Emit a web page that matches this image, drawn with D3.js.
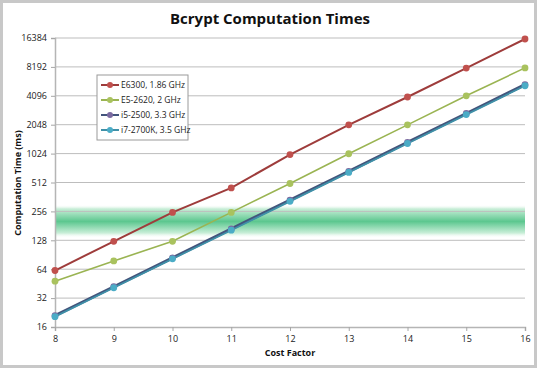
<!DOCTYPE html>
<html><head><meta charset="utf-8">
<script src="https://cdn.jsdelivr.net/npm/d3@7"></script>
<style>
html,body{margin:0;padding:0;background:#fff;}
svg{display:block;}
text{font-family:"Open Sans","Liberation Sans",Arial,sans-serif;}
</style></head>
<body><svg id="c" width="540" height="370"></svg>
<script>
const costFactors = [8, 9, 10, 11, 12, 13, 14, 15, 16];
const yTicks = [16, 32, 64, 128, 256, 512, 1024, 2048, 4096, 8192, 16384];
const seriesNames = ["E6300, 1.86 GHz", "E5-2620, 2 GHz", "i5-2500, 3.3 GHz", "i7-2700K, 3.5 GHz"];
const e6300 = [62, 125, 250, 450, 1000, 2040, 3980, 7970, 16000];
const e52620 = [48, 78, 125, 250, 500, 1020, 2040, 4096, 8000];
const i52500 = [21, 42, 84, 168, 336, 670, 1340, 2680, 5350];
const i72700k = [20.5, 41, 82, 163, 326, 652, 1304, 2608, 5210];
const bandRange = [135, 300];

const lineColors = ["#9e3c3b", "#9ab452", "#43557c", "#3f90a8"];
const markerColors = ["#c0504d", "#a9c25e", "#7b6aa0", "#4bacc6"];
const lineWidths = [2, 1.6, 3, 1.8];

const svg = d3.select("#c");
svg.append("rect").attr("x",1.5).attr("y",1.5).attr("width",534).attr("height",365)
  .attr("fill","#fff").attr("stroke","#c8c8c8").attr("stroke-width",3);

const x = d3.scaleLinear().domain([8,16]).range([55,525]);
const y = d3.scaleLog().base(2).domain([16,16384]).range([327,38]);

const defs = svg.append("defs");
const g = defs.append("linearGradient").attr("id","band").attr("x1",0).attr("y1",0).attr("x2",0).attr("y2",1);
g.append("stop").attr("offset","0%").attr("stop-color","#ffffff").attr("stop-opacity",0);
g.append("stop").attr("offset","12%").attr("stop-color","#c9eed8");
g.append("stop").attr("offset","50%").attr("stop-color","#5cc78f");
g.append("stop").attr("offset","85%").attr("stop-color","#c9eed8");
g.append("stop").attr("offset","100%").attr("stop-color","#ffffff").attr("stop-opacity",0);
svg.append("rect").attr("x",x(8)).attr("width",x(16)-x(8))
  .attr("y",y(bandRange[1])).attr("height",y(bandRange[0])-y(bandRange[1]))
  .attr("fill","url(#band)");

svg.append("g").selectAll("line").data(yTicks.slice(1)).join("line")
  .attr("x1",x(8)).attr("x2",x(16)).attr("y1",d=>y(d)).attr("y2",d=>y(d))
  .attr("stroke","#bdbdbd").attr("stroke-width",1);

const yAxis = d3.axisLeft(y).tickValues(yTicks).tickFormat(d3.format("d")).tickSize(4).tickPadding(4);
const ya = svg.append("g").attr("transform",`translate(${x(8)},0)`).call(yAxis);
const xAxis = d3.axisBottom(x).tickValues(costFactors).tickFormat(d3.format("d")).tickSize(4).tickPadding(5);
const xa = svg.append("g").attr("transform",`translate(0,${y(16)})`).call(xAxis);
[ya,xa].forEach(a=>{
  a.select(".domain").attr("stroke","#b5b5b5").attr("stroke-width",1.5);
  a.selectAll(".tick line").attr("stroke","#a6a6a6");
  a.selectAll("text").attr("font-size",9).attr("fill","#222");
});

const all = [e6300, e52620, i52500, i72700k];
const line = d3.line().x((d,i)=>x(costFactors[i])).y(d=>y(d));
[0,1,2,3].forEach(k=>{
  svg.append("path").datum(all[k]).attr("d",line).attr("fill","none")
    .attr("stroke",lineColors[k]).attr("stroke-width",lineWidths[k]);
});
[0,1,2,3].forEach(k=>{
  svg.append("g").selectAll("circle").data(all[k]).join("circle")
    .attr("cx",(d,i)=>x(costFactors[i])).attr("cy",d=>y(d)).attr("r",3.4)
    .attr("fill",markerColors[k]);
});

svg.append("text").attr("x",270).attr("y",24).attr("text-anchor","middle")
  .attr("font-size",15).attr("font-weight","bold").attr("fill","#111").text("Bcrypt Computation Times");
svg.append("text").attr("x",290).attr("y",356).attr("text-anchor","middle")
  .attr("font-size",9).attr("font-weight","bold").attr("fill","#111").text("Cost Factor");
svg.append("text").attr("transform","translate(21,183) rotate(-90)").attr("text-anchor","middle")
  .attr("font-size",9).attr("font-weight","bold").attr("fill","#111").text("Computation Time (ms)");

const lg = svg.append("g").attr("transform","translate(97,75)");
lg.append("rect").attr("width",91).attr("height",65).attr("fill","#fff").attr("stroke","#9a9a9a");
seriesNames.forEach((n,i)=>{
  const yy = 10 + i*15;
  lg.append("line").attr("x1",4).attr("x2",22).attr("y1",yy).attr("y2",yy)
    .attr("stroke",lineColors[i]).attr("stroke-width",2);
  lg.append("circle").attr("cx",13).attr("cy",yy).attr("r",3).attr("fill",markerColors[i]);
  lg.append("text").attr("x",24).attr("y",yy+3).attr("font-size",8.5).attr("fill","#222").text(n);
});
</script></body></html>
